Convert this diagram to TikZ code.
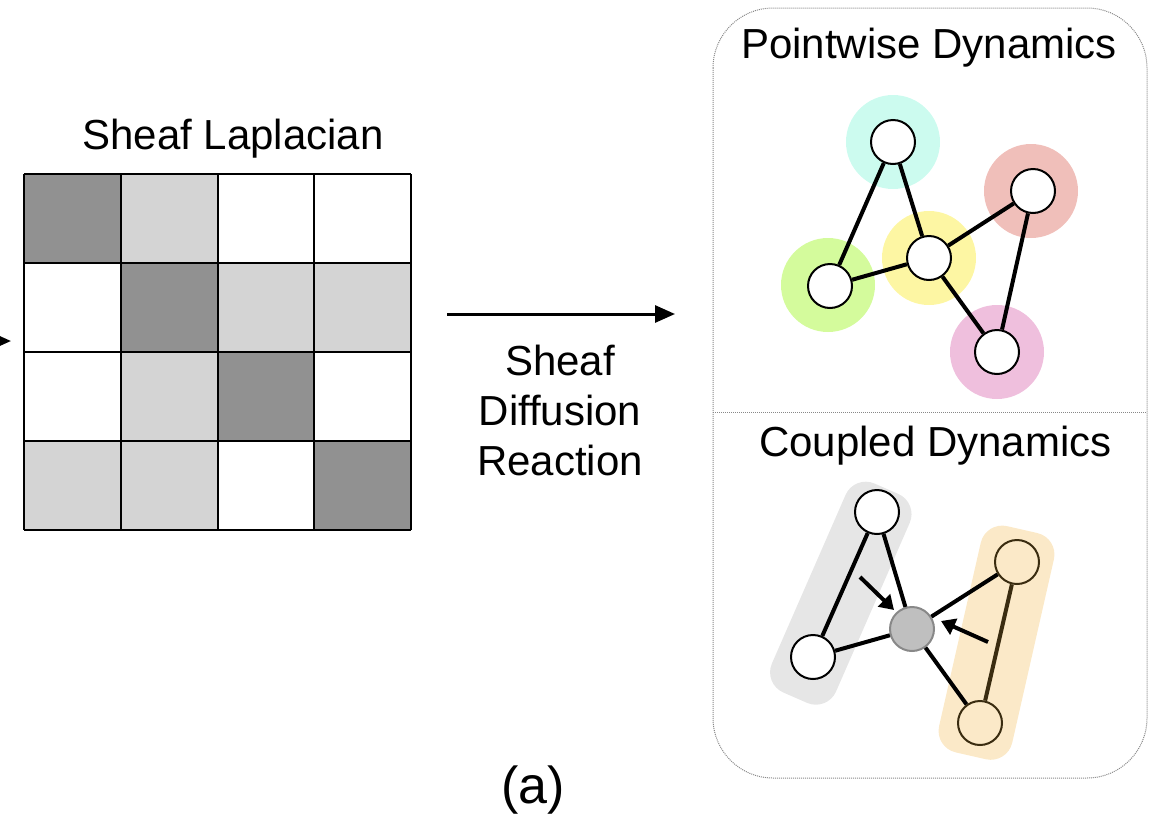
\documentclass[tikz,border=0pt]{standalone}
\usepackage{fontspec}
\setmainfont{Liberation Sans}
\usetikzlibrary{arrows.meta}
\definecolor{darkcell}{HTML}{919191}
\definecolor{lightcell}{HTML}{D4D4D4}
\definecolor{hcyan}{HTML}{CCFBEF}
\definecolor{hgreen}{HTML}{D4FB9C}
\definecolor{hyellow}{HTML}{FDF6A3}
\definecolor{hred}{HTML}{F0BFBA}
\definecolor{hpink}{HTML}{EFBFDD}
\definecolor{bandgray}{HTML}{E6E6E6}
\definecolor{bandtan}{HTML}{FBE9C8}
\definecolor{tanborder}{HTML}{3A2C10}
\definecolor{centergray}{HTML}{BFBFBF}
\definecolor{boxline}{HTML}{888888}
\begin{document}
\begin{tikzpicture}[x=1pt,y=-1pt,
  lbl/.style={font=\fontsize{42}{50}\selectfont, inner sep=0pt},
  gnode/.style={circle, draw=black, line width=2pt, fill=white, minimum size=44pt, inner sep=0pt},
  halo/.style={circle, minimum size=94pt, inner sep=0pt, draw=none},
  edge/.style={line width=4pt},
  band/.style={rectangle, rounded corners=22pt, inner sep=0pt, draw=none},
  cell/.style={draw=black, line width=2pt},
  bigarrow/.style={line width=3pt, -{Triangle[length=20pt,width=17pt]}},
  smallarrow/.style={line width=4pt, -{Triangle[length=14pt,width=17pt]}},
  dotbox/.style={draw=boxline, line width=1pt, dash pattern=on 1pt off 1pt}
]
\useasboundingbox (0,0) rectangle (1160,836);

% partial arrow at the left edge
\coordinate (lstart) at (-30,341);
\coordinate (lend) at (11,341);
\draw[bigarrow] (lstart) -- (lend);

% Sheaf Laplacian matrix
\node[lbl, anchor=base] (tsl) at (233,149) {Sheaf Laplacian};
\def\cx{{24,121,218,315,411}}
\foreach \r/\c/\col in {0/0/darkcell,0/1/lightcell,0/2/white,0/3/white,
                         1/0/white,1/1/darkcell,1/2/lightcell,1/3/lightcell,
                         2/0/white,2/1/lightcell,2/2/darkcell,2/3/white,
                         3/0/lightcell,3/1/lightcell,3/2/white,3/3/darkcell}{
  \pgfmathsetmacro{\xa}{24+96.75*\c}
  \pgfmathsetmacro{\ya}{174+89*\r}
  \fill[\col] (\xa,\ya) rectangle ++(96.75,89);
}
\foreach \i in {0,...,4}{
  \pgfmathsetmacro{\xx}{24+96.75*\i}
  \pgfmathsetmacro{\yy}{174+89*\i}
  \draw[cell] (\xx,174) -- (\xx,530);
  \draw[cell] (24,\yy) -- (411,\yy);
}

% main arrow with label
\coordinate (astart) at (447,314);
\coordinate (aend) at (675,314);
\draw[bigarrow] (astart) -- (aend);
\node[lbl, align=center, anchor=center] (tsdr) at (560,410) {Sheaf\\Diffusion\\Reaction};

% dotted rounded box
\draw[dotbox, rounded corners=60pt] (713,8) rectangle (1147,778);
\coordinate (divl) at (713,412);
\coordinate (divr) at (1147,412);
\draw[dotbox] (divl) -- (divr);

% Pointwise dynamics
\node[lbl, anchor=base] (tpw) at (929,58) {Pointwise Dynamics};
\node[halo, fill=hcyan] (h1) at (893,142) {};
\node[halo, fill=hgreen] (h2) at (828,285) {};
\node[halo, fill=hyellow] (h3) at (929,258) {};
\node[halo, fill=hred] (h4) at (1031,191) {};
\node[halo, fill=hpink] (h5) at (997,352) {};
\node[gnode] (p1) at (893,142) {};
\node[gnode] (p2) at (830,286) {};
\node[gnode] (p3) at (929,258) {};
\node[gnode] (p4) at (1033,191) {};
\node[gnode] (p5) at (997,352) {};
\draw[edge] (p1) -- (p2);
\draw[edge] (p1) -- (p3);
\draw[edge] (p2) -- (p3);
\draw[edge] (p3) -- (p4);
\draw[edge] (p3) -- (p5);
\draw[edge] (p4) -- (p5);

% Coupled dynamics
\node[lbl, anchor=base] (tcd) at (935.5,456) {Coupled Dynamics};
\node[band, fill=bandgray, minimum width=228pt, minimum height=70pt, rotate=66.4] (bg) at (840.8,593.2) {};
\node[band, fill=bandtan, minimum width=232pt, minimum height=75pt, rotate=77.2] (bt) at (996.5,642.7) {};
\node[gnode] (c1) at (877,512) {};
\node[gnode] (c2) at (813,657) {};
\node[gnode, fill=centergray, draw=boxline] (c0) at (912,629) {};
\node[gnode, fill=bandtan, draw=tanborder] (c3) at (1017,562) {};
\node[gnode, fill=bandtan, draw=tanborder] (c4) at (980,723) {};
\draw[edge] (c1) -- (c2);
\draw[edge] (c1) -- (c0);
\draw[edge] (c2) -- (c0);
\draw[edge] (c0) -- (c3);
\draw[edge] (c0) -- (c4);
\draw[edge, tanborder] (c3) -- (c4);
\coordinate (ga) at (860,577);
\coordinate (gb) at (894,610);
\draw[smallarrow] (ga) -- (gb);
\coordinate (ta) at (988,642);
\coordinate (tb) at (941,621);
\draw[smallarrow] (ta) -- (tb);

% caption
\node[font=\fontsize{52}{60}\selectfont, inner sep=0pt, anchor=base] (cap) at (533,803) {(a)};
\end{tikzpicture}
\end{document}
